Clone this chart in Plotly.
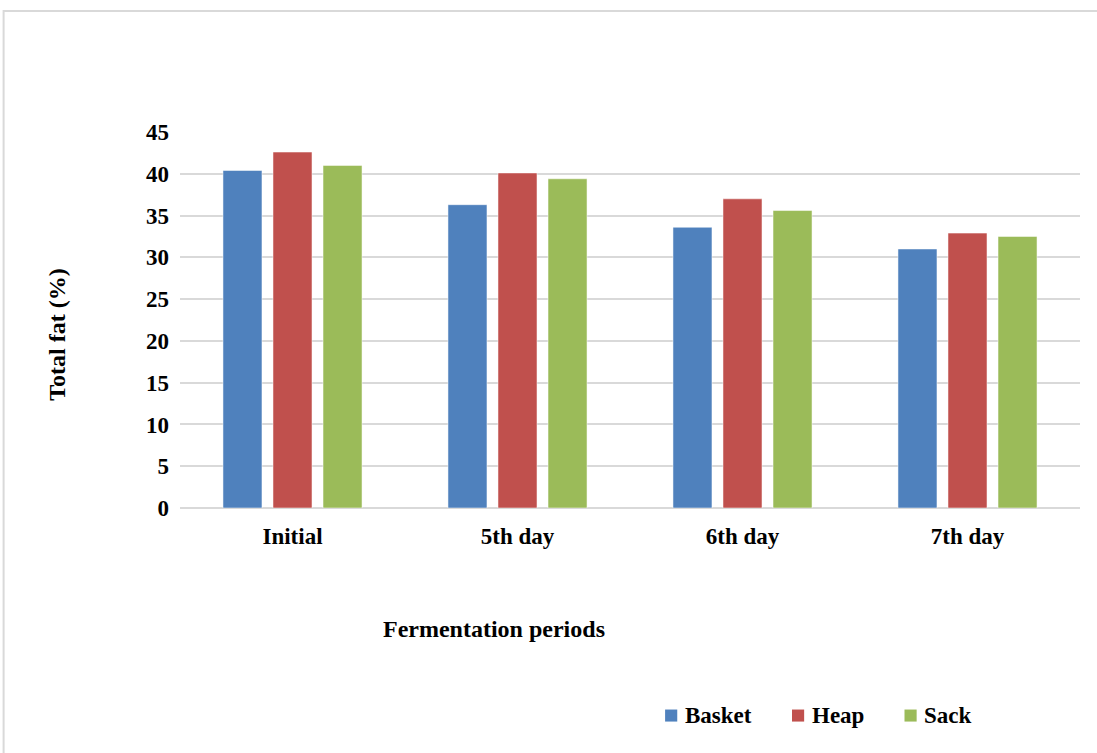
import plotly.graph_objects as go

periods = ["Initial", "5th day", "6th day", "7th day"]
basket = [40.4, 36.3, 33.6, 31.0]
heap = [42.6, 40.1, 37.0, 32.9]
sack = [41.0, 39.4, 35.6, 32.5]
y_ticks = [0, 5, 10, 15, 20, 25, 30, 35, 40, 45]

series = [
    ("Basket", basket, "#4F81BD"),
    ("Heap", heap, "#C0504D"),
    ("Sack", sack, "#9BBB59"),
]

FONT = "Liberation Serif"
BOLD = dict(family=FONT, size=23, color="black", weight="bold")

fig = go.Figure()
for name, vals, color in series:
    fig.add_trace(go.Bar(
        name=name, x=periods, y=vals, showlegend=False,
        marker=dict(color=color, line=dict(color="rgba(255,255,255,0.5)", width=1)),
    ))

fig.update_layout(
    width=1097, height=753,
    margin=dict(l=180, r=17, t=132, b=245),
    paper_bgcolor="white", plot_bgcolor="white",
    barmode="group", bargap=0.333, bargroupgap=0.22,
    font=BOLD,
    xaxis=dict(
        showgrid=False, showline=False, ticks="",
        tickfont=BOLD, ticklabelstandoff=12,
    ),
    yaxis=dict(
        range=[0, 45], tickvals=y_ticks, showgrid=True, gridcolor="#D9D9D9", gridwidth=2,
        zeroline=True, zerolinecolor="#D9D9D9", zerolinewidth=2,
        showline=False, ticks="",
        tickfont=BOLD, ticklabelstandoff=10,
    ),
)

fig.add_annotation(
    text="Total fat (%)", xref="paper", yref="paper", x=-0.137, y=0.46,
    xanchor="center", yanchor="middle",
    textangle=-90, showarrow=False, font=dict(BOLD, size=24),
)
fig.add_annotation(
    text="Fermentation periods", xref="paper", yref="paper", x=0.349, y=-0.322,
    xanchor="center", yanchor="middle", showarrow=False, font=dict(BOLD, size=24),
)

# Legend row: colour swatch followed by the series name
legend_x = [0.539, 0.680, 0.805]
for (name, _, color), lx in zip(series, legend_x):
    fig.add_shape(
        type="rect", xref="paper", yref="paper",
        x0=lx, x1=lx + 0.0135, y0=-0.568, y1=-0.536,
        line=dict(width=0), fillcolor=color,
    )
    fig.add_annotation(
        text=name, xref="paper", yref="paper", x=lx + 0.0195, y=-0.553,
        xanchor="left", yanchor="middle", showarrow=False, font=dict(BOLD, size=23),
    )

# Light frame around the chart area
fig.add_shape(
    type="rect", xref="paper", yref="paper", x0=-0.196, y0=-0.7, x1=1.03, y1=1.322,
    line=dict(color="#D9D9D9", width=2), fillcolor="rgba(0,0,0,0)",
)

fig.write_html("out.html")
